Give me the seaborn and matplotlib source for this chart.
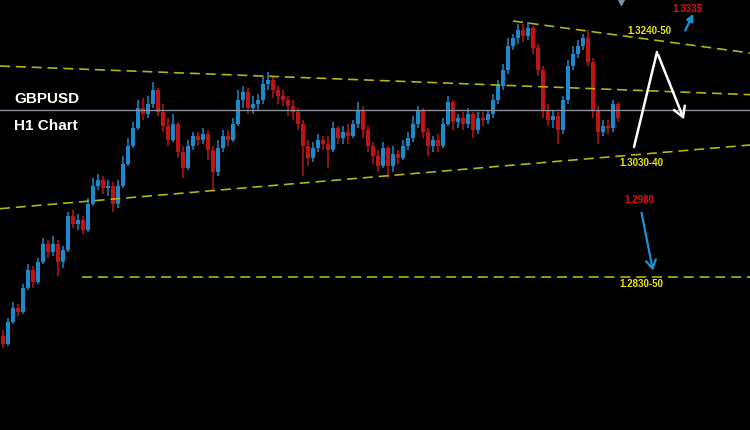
import matplotlib
matplotlib.use("Agg")
import matplotlib.pyplot as plt
import seaborn as sns
import pandas as pd

# GBPUSD hourly candles
opens = [
    1.2756, 1.2744, 1.2777, 1.2798, 1.2792, 1.2828, 1.2855, 1.2837, 1.2867, 1.2894,
    1.2882, 1.2894, 1.2867, 1.2885, 1.2936, 1.2924, 1.2930, 1.2915, 1.2954, 1.2981,
    1.2990, 1.2978, 1.2981, 1.2954, 1.2981, 1.3014, 1.3041, 1.3068, 1.3098, 1.3089,
    1.3104, 1.3125, 1.3092, 1.3071, 1.3050, 1.3074, 1.3032, 1.3008, 1.3041, 1.3056,
    1.3050, 1.3059, 1.3035, 1.3002, 1.3038, 1.3056, 1.3050, 1.3074, 1.3110, 1.3122,
    1.3098, 1.3104, 1.3110, 1.3134, 1.3140, 1.3125, 1.3116, 1.3110, 1.3101, 1.3092,
    1.3074, 1.3041, 1.3023, 1.3038, 1.3050, 1.3044, 1.3035, 1.3068, 1.3053, 1.3062,
    1.3056, 1.3074, 1.3095, 1.3065, 1.3041, 1.3026, 1.3011, 1.3038, 1.3011, 1.3029,
    1.3023, 1.3041, 1.3053, 1.3074, 1.3095, 1.3062, 1.3041, 1.3050, 1.3041, 1.3074,
    1.3107, 1.3077, 1.3083, 1.3074, 1.3089, 1.3065, 1.3083, 1.3080, 1.3089, 1.3110,
    1.3131, 1.3155, 1.3191, 1.3203, 1.3215, 1.3206, 1.3218, 1.3188, 1.3155, 1.3095,
    1.3080, 1.3086, 1.3065, 1.3110, 1.3161, 1.3179, 1.3191, 1.3203, 1.3167, 1.3095,
    1.3062, 1.3071, 1.3068, 1.3104,
]
closes = [
    1.2744, 1.2777, 1.2798, 1.2792, 1.2828, 1.2855, 1.2837, 1.2867, 1.2894, 1.2882,
    1.2894, 1.2867, 1.2885, 1.2936, 1.2924, 1.2930, 1.2915, 1.2954, 1.2981, 1.2990,
    1.2978, 1.2981, 1.2954, 1.2981, 1.3014, 1.3041, 1.3068, 1.3098, 1.3089, 1.3104,
    1.3125, 1.3092, 1.3071, 1.3050, 1.3074, 1.3032, 1.3008, 1.3041, 1.3056, 1.3050,
    1.3059, 1.3035, 1.3002, 1.3038, 1.3056, 1.3050, 1.3074, 1.3110, 1.3122, 1.3098,
    1.3104, 1.3110, 1.3134, 1.3140, 1.3125, 1.3116, 1.3110, 1.3101, 1.3092, 1.3074,
    1.3041, 1.3023, 1.3038, 1.3050, 1.3044, 1.3035, 1.3068, 1.3053, 1.3062, 1.3056,
    1.3074, 1.3095, 1.3065, 1.3041, 1.3026, 1.3011, 1.3038, 1.3011, 1.3029, 1.3023,
    1.3041, 1.3053, 1.3074, 1.3095, 1.3062, 1.3041, 1.3050, 1.3041, 1.3074, 1.3107,
    1.3077, 1.3083, 1.3074, 1.3089, 1.3065, 1.3083, 1.3080, 1.3089, 1.3110, 1.3131,
    1.3155, 1.3191, 1.3203, 1.3215, 1.3206, 1.3218, 1.3188, 1.3155, 1.3095, 1.3080,
    1.3086, 1.3065, 1.3110, 1.3161, 1.3179, 1.3191, 1.3203, 1.3167, 1.3095, 1.3062,
    1.3071, 1.3068, 1.3104, 1.3083,
]
highs = [
    1.2765, 1.2783, 1.2807, 1.2804, 1.2834, 1.2864, 1.2861, 1.2873, 1.2903, 1.2900,
    1.2906, 1.2900, 1.2891, 1.2942, 1.2945, 1.2939, 1.2936, 1.2963, 1.2993, 1.2999,
    1.2996, 1.2990, 1.2987, 1.2990, 1.3026, 1.3053, 1.3077, 1.3110, 1.3113, 1.3116,
    1.3137, 1.3128, 1.3104, 1.3083, 1.3089, 1.3077, 1.3041, 1.3050, 1.3062, 1.3062,
    1.3068, 1.3065, 1.3041, 1.3050, 1.3065, 1.3065, 1.3083, 1.3125, 1.3131, 1.3128,
    1.3116, 1.3119, 1.3146, 1.3152, 1.3146, 1.3131, 1.3125, 1.3116, 1.3110, 1.3098,
    1.3080, 1.3050, 1.3047, 1.3059, 1.3056, 1.3056, 1.3077, 1.3071, 1.3071, 1.3074,
    1.3080, 1.3107, 1.3101, 1.3071, 1.3047, 1.3035, 1.3047, 1.3041, 1.3041, 1.3035,
    1.3050, 1.3062, 1.3086, 1.3101, 1.3098, 1.3068, 1.3056, 1.3059, 1.3083, 1.3116,
    1.3110, 1.3089, 1.3092, 1.3098, 1.3092, 1.3092, 1.3092, 1.3095, 1.3119, 1.3140,
    1.3164, 1.3203, 1.3209, 1.3224, 1.3224, 1.3227, 1.3221, 1.3194, 1.3161, 1.3104,
    1.3095, 1.3092, 1.3116, 1.3170, 1.3191, 1.3200, 1.3209, 1.3215, 1.3173, 1.3101,
    1.3080, 1.3080, 1.3110, 1.3107,
]
lows = [
    1.2738, 1.2741, 1.2774, 1.2786, 1.2789, 1.2825, 1.2828, 1.2834, 1.2864, 1.2873,
    1.2876, 1.2846, 1.2858, 1.2882, 1.2918, 1.2915, 1.2909, 1.2912, 1.2951, 1.2975,
    1.2969, 1.2966, 1.2942, 1.2948, 1.2978, 1.3011, 1.3038, 1.3065, 1.3080, 1.3083,
    1.3098, 1.3086, 1.3062, 1.3041, 1.3047, 1.3023, 1.2993, 1.3005, 1.3035, 1.3041,
    1.3044, 1.3020, 1.2975, 1.2996, 1.3032, 1.3041, 1.3047, 1.3071, 1.3098, 1.3089,
    1.3089, 1.3095, 1.3104, 1.3125, 1.3113, 1.3104, 1.3101, 1.3086, 1.3080, 1.3065,
    1.2996, 1.3011, 1.3017, 1.3032, 1.3035, 1.3008, 1.3032, 1.3044, 1.3044, 1.3044,
    1.3053, 1.3068, 1.3053, 1.3032, 1.3014, 1.3002, 1.3008, 1.2993, 1.3002, 1.3014,
    1.3020, 1.3035, 1.3047, 1.3068, 1.3053, 1.3026, 1.3032, 1.3032, 1.3038, 1.3071,
    1.3065, 1.3068, 1.3065, 1.3068, 1.3053, 1.3059, 1.3071, 1.3074, 1.3083, 1.3104,
    1.3125, 1.3149, 1.3185, 1.3194, 1.3197, 1.3200, 1.3179, 1.3146, 1.3083, 1.3071,
    1.3068, 1.3044, 1.3059, 1.3104, 1.3155, 1.3173, 1.3185, 1.3161, 1.3083, 1.3044,
    1.3056, 1.3059, 1.3062, 1.3077,
]

# levels drawn on the chart
upper_channel = [1.3161, 1.3118]
lower_channel = [1.2947, 1.30425]
resistance = [1.32285, 1.31805]
support_level = 1.2845
current_level = 1.3095

UP = "#1c89cc"
DOWN = "#c01414"
LEVEL = "#b4b414"

sns.set_theme(style="dark", rc={"axes.facecolor": "black", "figure.facecolor": "black"})
plt.rcParams["font.family"] = ["Liberation Sans", "DejaVu Sans"]

df = pd.DataFrame({"open": opens, "high": highs, "low": lows, "close": closes})
df["idx"] = range(len(df))
df["color"] = [UP if c >= o else DOWN for o, c in zip(df["open"], df["close"])]

fig = plt.figure(figsize=(7.5, 4.3), dpi=100)
ax = fig.add_axes([0, 0, 1, 1])
ax.set_facecolor("black")

# wicks and bodies
ax.vlines(df["idx"], df["low"], df["high"], colors=df["color"], linewidth=1.1)
body = (df["close"] - df["open"]).where((df["close"] - df["open"]).abs() > 0.00005, 0.00005)
ax.bar(df["idx"], body, bottom=df["open"], width=0.8, color=df["color"], linewidth=0)

x_end = 149.5
dash = (0, (6, 3.5))

sns.lineplot(x=[-0.5, x_end], y=upper_channel, ax=ax, color=LEVEL, linewidth=1.2, linestyle=dash)
sns.lineplot(x=[-0.5, x_end], y=lower_channel, ax=ax, color=LEVEL, linewidth=1.2, linestyle=dash)
sns.lineplot(x=[102.1, x_end], y=resistance, ax=ax, color=LEVEL, linewidth=1.2, linestyle=dash)
ax.plot([15.9, x_end], [support_level, support_level], color=LEVEL, linewidth=1.2, linestyle=dash)
ax.axhline(current_level, color="#8a909c", linewidth=1)

# projected path
ax.plot([126.3, 130.9], [1.30395, 1.3182], color="white", linewidth=1.8)
ax.annotate("", xy=(136.5, 1.3077), xytext=(130.9, 1.3182),
            arrowprops=dict(arrowstyle="->,head_length=0.6,head_width=0.35",
                            color="white", lw=1.8))
ax.annotate("", xy=(138.4, 1.3243), xytext=(136.3, 1.32105),
            arrowprops=dict(arrowstyle="-|>", color="#1e90d6", lw=1.6, mutation_scale=10))
ax.annotate("", xy=(130.2, 1.2850), xytext=(127.7, 1.2945),
            arrowprops=dict(arrowstyle="->,head_length=0.5,head_width=0.3",
                            color="#1e90d6", lw=1.6))

lbl = dict(fontsize=7, fontweight="bold", ha="center", va="center")
ax.text(129.3, 1.32135, "1.3240-50", color="#e8e800", **lbl)
ax.text(136.9, 1.32465, "1.3335", color="#e01010", **lbl)
ax.text(127.7, 1.30155, "1.3030-40", color="#e8e800", **lbl)
ax.text(127.3, 1.2960, "1.2980", color="#e01010", **lbl)
ax.text(127.7, 1.2834, "1.2830-50", color="#e8e800", **lbl)
ax.plot([123.7], [1.3258], marker="v", color="#8090a8", markersize=6)

ax.text(0.019, 0.77, "GBPUSD", transform=ax.transAxes, color="white",
        fontsize=11, fontweight="bold", va="center")
ax.text(0.019, 0.707, "H1 Chart", transform=ax.transAxes, color="white",
        fontsize=11, fontweight="bold", va="center")

ax.set_xlim(-0.5, x_end)
ax.set_ylim(1.2615, 1.3260)
ax.set_axis_off()

fig.savefig("out.png", dpi=100, facecolor="black")
